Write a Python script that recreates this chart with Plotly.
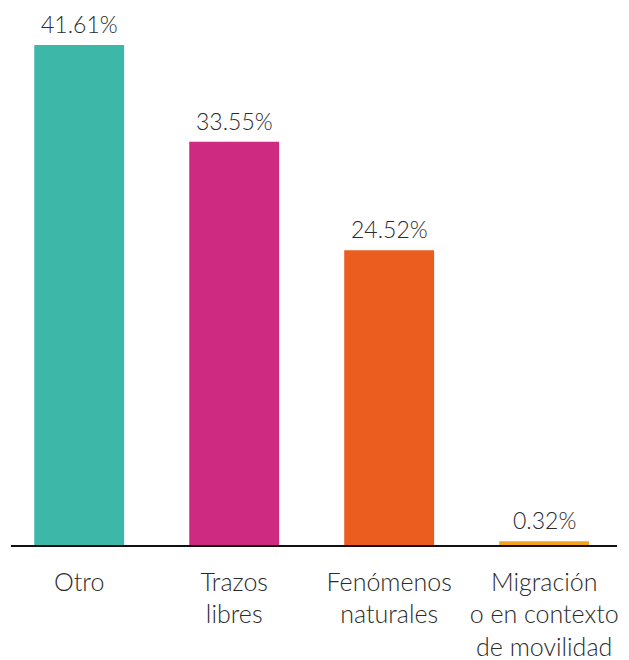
import plotly.graph_objects as go

categories = ["Otro", "Trazos<br>libres", "Fenómenos<br>naturales", "Migración<br>o en contexto<br>de movilidad"]
values = [41.61, 33.55, 24.52, 0.32]
colors = ["#3DB8A8", "#CE2A82", "#EB5C1F", "#F2A21E"]

FONT = "Lato"
TEXT_COLOR = "#2b2b2b"

fig = go.Figure(
    go.Bar(
        x=list(range(len(categories))),
        y=values,
        marker=dict(color=colors, line=dict(width=0)),
        width=0.58,
        hoverinfo="skip",
    )
)

for i, v in enumerate(values):
    fig.add_annotation(
        x=i, y=v, text=f"{v:.2f}%", showarrow=False,
        yanchor="bottom", yshift=5,
        font=dict(family=FONT, size=23, color=TEXT_COLOR, weight=300),
    )

fig.update_layout(
    width=629, height=660,
    margin=dict(l=11, r=12, t=0, b=115),
    plot_bgcolor="white", paper_bgcolor="white",
    showlegend=False,
    xaxis=dict(
        range=[-0.44, 3.47],
        tickmode="array", tickvals=list(range(len(categories))), ticktext=categories,
        showgrid=False, zeroline=False,
        showline=True, linecolor="#111111", linewidth=1.5,
        ticks="outside", ticklen=14, tickcolor="rgba(0,0,0,0)",
        tickfont=dict(family=FONT, size=25, color=TEXT_COLOR, weight=300),
    ),
    yaxis=dict(range=[0, 45.35], visible=False),
)

fig.write_html("out.html")
